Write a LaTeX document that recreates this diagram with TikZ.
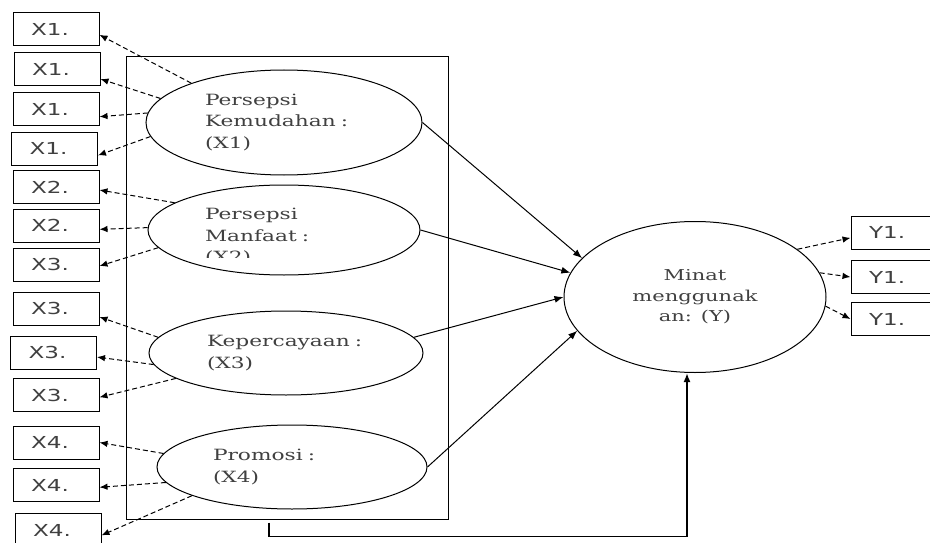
\documentclass[tikz,border=0pt]{standalone}
\usepackage{fontspec}
\setmainfont[FakeStretch=1.4]{DejaVu Serif}
\newfontfamily\boxfont[FakeStretch=1.4]{DejaVu Sans}
\usetikzlibrary{shapes.geometric,arrows.meta}

\begin{document}
\begin{tikzpicture}[x=1pt,y=-1pt,line width=1pt]
		\tikzstyle{every node}+=[inner sep=0pt]
		\tikzstyle{ind}=[draw, minimum width=86pt, minimum height=33pt, text width=50pt, align=left, font=\boxfont\fontsize{16.5}{16.5}\selectfont, text=black!75]
		\tikzstyle{lat}=[draw, ellipse, text width=158pt, align=left, font=\fontsize{15.5}{21.5}\selectfont, text=black!75]
		\tikzstyle{ldg}=[dash pattern=on 5pt off 3pt, -{Latex[length=8pt,width=6.5pt]}]
		\tikzstyle{reg}=[-{Latex[length=9pt,width=7pt]}]
		\useasboundingbox (0,0) rectangle (930,543);
		\node [draw, minimum width=322pt, minimum height=462pt] (frame) at (287,288) {};
		\node [ind] (x1) at (56,29.5) {X1.};
		\node [ind] (x2) at (57,69) {X1.};
		\node [ind] (x3) at (56,109) {X1.};
		\node [ind] (x4) at (54.5,148.5) {X1.};
		\node [ind] (x5) at (56,187) {X2.};
		\node [ind] (x6) at (56,225.5) {X2.};
		\node [ind] (x7) at (56,264.5) {X3.};
		\node [ind] (x8) at (56,308.5) {X3.};
		\node [ind] (x9) at (53.5,352.5) {X3.};
		\node [ind] (x10) at (56,395) {X3.};
		\node [ind] (x11) at (56,442.5) {X4.};
		\node [ind] (x12) at (56,485) {X4.};
		\node [ind] (x13) at (58,530) {X4.};
		\node [ind] (y1) at (894,232.5) {Y1.};
		\node [ind] (y2) at (894,277) {Y1.};
		\node [ind] (y3) at (894,319) {Y1.};
		\node [lat, minimum width=276pt, minimum height=105pt] (e1) at (284,122.5) {Persepsi\\Kemudahan :\\(X1)};
		\node [lat, minimum width=272pt, minimum height=90pt] (e2) at (284,230) {};
		\begin{scope}
			\clip (150,190) rectangle (420,257);
			\node [lat, draw=none] at (284,237) {Persepsi\\Manfaat :\\(X2)};
		\end{scope}
		\node [lat, minimum width=274pt, minimum height=84pt] (e3) at (286,353) {Kepercayaan :\\(X3)};
		\node [lat, minimum width=270pt, minimum height=84pt] (e4) at (292,467) {Promosi :\\(X4)};
		\node [draw, ellipse, minimum width=262pt, minimum height=151pt, align=center, font=\fontsize{15}{20.5}\selectfont, text=black!75] (m) at (695,297) {Minat\\menggunak\\an: (Y)};
		\draw [ldg] (e1.157) -- (x1.-7);
		\draw [ldg] (e1.169) -- (x2.-13);
		\draw [ldg] (e1.176) -- (x3.-10);
		\draw [ldg] (e1.186) -- (x4.-9);
		\draw [ldg] (e2.166) -- (x5.-4);
		\draw [ldg] (e2.179) -- (x6.-5);
		\draw [ldg] (e2.188) -- (x7.-2);
		\draw [ldg] (e3.173) -- (x8.-11);
		\draw [ldg] (e3.185) -- (x9.-6);
		\draw [ldg] (e3.193) -- (x10.-3);
		\draw [ldg] (e4.174) -- (x11.east);
		\draw [ldg] (e4.187) -- (x12.-3);
		\draw [ldg] (e4.196) -- (x13.-7);
		\draw [ldg] (m.25) -- (y1.187);
		\draw [ldg] (m.11) -- (y2.west);
		\draw [ldg] (m.-4) -- (y3.west);
		\draw [reg] (e1.east) -- (m.161);
		\draw [reg] (e2.east) -- (m.169);
		\draw [reg] (e3.7) -- (m.180);
		\draw [reg] (e4.east) -- (m.196);
		\draw [reg, line width=1.8pt] ([xshift=-18pt,yshift=-3pt]frame.south) -- ++(0,14) -| ([xshift=-8pt]m.south);
	\end{tikzpicture}
\end{document}
